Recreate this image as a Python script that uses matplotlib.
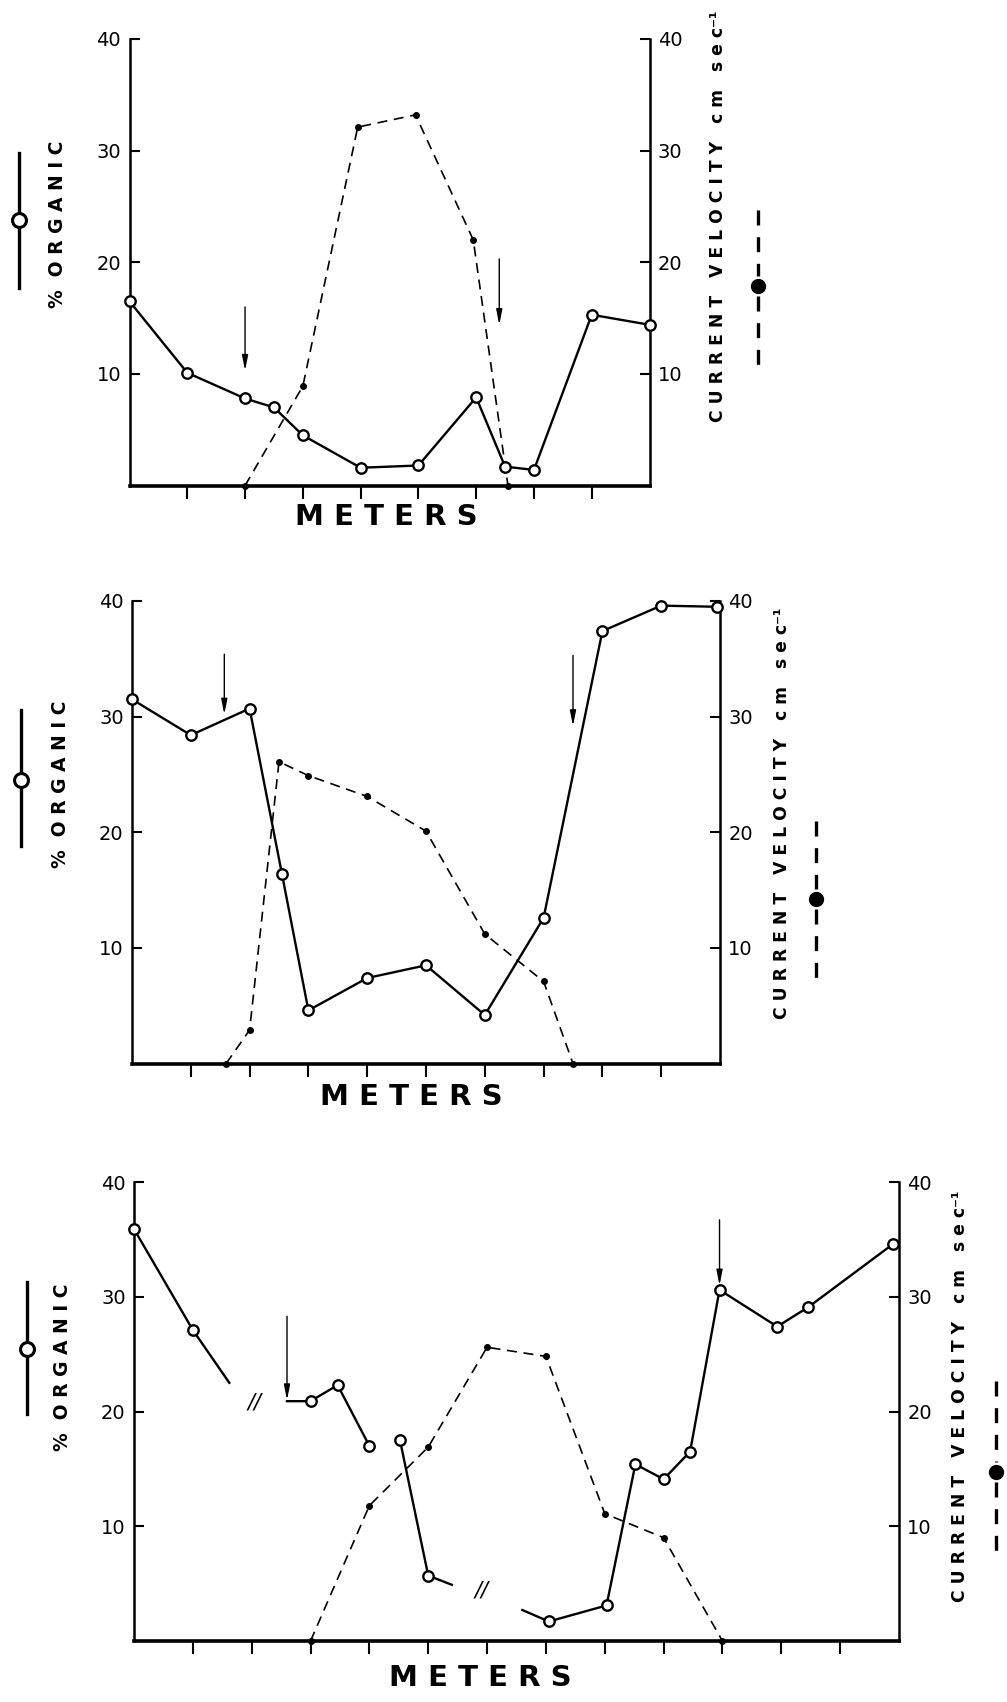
"""
Organic content vs current velocity along three transects.
"""
import numpy as np
import matplotlib.pyplot as plt
from matplotlib.lines import Line2D

W, H = 1007, 1702
nan = np.nan

# ---- panel 1 ----
org1_x = [0, 1, 2, 2.5, 3, 4, 5, 6, 6.5, 7, 8, 9]
org1_y = [16.5, 10.1, 7.8, 7.0, 4.5, 1.6, 1.8, 7.9, 1.7, 1.4, 15.3, 14.4]
vel1_x = [2, 3, 3.95, 4.95, 5.95, 6.55]
vel1_y = [0, 8.9, 32.1, 33.2, 22.0, 0]
arrows1 = [(2, 16.0, 10.3), (6.4, 20.3, 14.4)]

# ---- panel 2 ----
org2_x = [0, 1, 2, 2.55, 3, 4, 5, 6, 7, 8, 9, 9.95]
org2_y = [31.5, 28.4, 30.7, 16.4, 4.6, 7.4, 8.5, 4.2, 12.6, 37.4, 39.6, 39.5]
vel2_x = [1.6, 2, 2.5, 3, 4, 5, 6, 7, 7.5]
vel2_y = [0, 2.9, 26.1, 24.9, 23.1, 20.1, 11.2, 7.1, 0]
arrows2 = [(1.57, 35.4, 30.2), (7.5, 35.3, 29.2)]

# ---- panel 3 (nan = break in transect) ----
org3_x = [0, 1, 1.62, nan, 2.6, 3, 3.46, 4, nan, 4.52, 5, 5.4, nan,
          6.6, 7.05, 8.03, 8.52, 9, 9.45, 9.95, 10.93, 11.46, 12.9]
org3_y = [35.9, 27.1, 22.5, nan, 20.9, 20.9, 22.3, 17.0, nan, 17.5, 5.7, 4.9, nan,
          2.7, 1.7, 3.1, 15.4, 14.1, 16.5, 30.6, 27.4, 29.1, 34.6]
org3_marks = [0, 1, 5, 6, 7, 9, 10, 14, 15, 16, 17, 18, 19, 20, 21, 22]
vel3_x = [3, 4, 5, 6, 7, 8, 9, 10]
vel3_y = [0, 11.8, 16.9, 25.6, 24.8, 11.1, 9.0, 0]
arrows3 = [(2.6, 28.3, 21.0), (9.95, 36.7, 31.0)]
breaks3_x = [2.05, 5.9]
breaks3_y = [20.8, 4.4]

LEFT_LABEL = "%  O R G A N I C"
RIGHT_LABEL = "C U R R E N T   V E L O C I T Y   c m   s e c\u207b\u00b9"
XLABEL = "M E T E R S"


def fx(x):
    return x / W


def fy(y):
    return 1 - y / H


def panel(fig, rect, n, ox, oy, vx, vy, arrows, marks=None):
    l, t, r, b = rect
    ax = fig.add_axes([fx(l), fy(b), (r - l) / W, (b - t) / H])
    ax.plot(vx, vy, color='k', lw=1.2, dashes=(6, 4), marker='o', ms=4,
            mfc='k', mec='k', zorder=2, clip_on=False)
    ax.plot(ox, oy, color='k', lw=1.7, zorder=3, clip_on=False)
    ax.plot(ox, oy, ls='none', marker='o', ms=7.5, mfc='white', mec='k',
            mew=1.7, markevery=marks, zorder=4, clip_on=False)
    for x, y0, y1 in arrows:
        ax.annotate('', xy=(x, y1), xytext=(x, y0),
                    arrowprops=dict(arrowstyle='-|>,head_length=0.9,head_width=0.18',
                                    color='k', lw=1.0, shrinkA=0, shrinkB=0))
    ax.set_xlim(0, n)
    ax.set_ylim(0, 40)
    ax.spines['top'].set_visible(False)
    ax.spines['left'].set_linewidth(1.8)
    ax.spines['right'].set_linewidth(1.8)
    ax.spines['bottom'].set_linewidth(2.6)
    ax.set_xticks(range(1, n))
    ax.set_yticks([10, 20, 30, 40])
    ax.tick_params(axis='x', direction='out', length=9, width=1.5, labelbottom=False)
    ax.tick_params(axis='y', direction='in', length=7, width=1.5, left=True, right=True,
                   labelleft=True, labelright=True, labelsize=14, pad=6)
    return ax


def labels(fig, meters, left, leg_l, right, leg_r):
    fig.text(fx(meters[0]), fy(meters[1]), XLABEL, ha='center', va='center',
             fontsize=21, fontweight='bold')
    fig.text(fx(left[0]), fy(left[1]), LEFT_LABEL, ha='center', va='center',
             rotation=90, fontsize=13.5, fontweight='bold')
    fig.text(fx(right[0]), fy(right[1]), RIGHT_LABEL, ha='center', va='center',
             rotation=90, fontsize=12.3, fontweight='bold')
    # legend glyph: solid line with open circle
    x, y0, y1, yc = leg_l
    fig.add_artist(Line2D([fx(x), fx(x)], [fy(y0), fy(y1)], transform=fig.transFigure,
                          color='k', lw=2.4))
    fig.add_artist(Line2D([fx(x)], [fy(yc)], transform=fig.transFigure, marker='o',
                          ms=10, mfc='white', mec='k', mew=2.2))
    # legend glyph: dashed line with filled dot
    x, y0, y1, yc = leg_r
    fig.add_artist(Line2D([fx(x), fx(x)], [fy(y0), fy(yc) + 0.006], transform=fig.transFigure,
                          color='k', lw=2.4, dashes=(4.5, 3.5)))
    fig.add_artist(Line2D([fx(x), fx(x)], [fy(yc) - 0.006, fy(y1)], transform=fig.transFigure,
                          color='k', lw=2.4, dashes=(4.5, 3.5)))
    fig.add_artist(Line2D([fx(x)], [fy(yc)], transform=fig.transFigure, marker='o',
                          ms=10, mfc='k', mec='k'))


fig = plt.figure(figsize=(W / 100, H / 100), dpi=100)
fig.patch.set_facecolor('white')

panel(fig, (129.5, 38.9, 649.5, 485.6), 9, org1_x, org1_y, vel1_x, vel1_y, arrows1)
labels(fig, (386, 517), (58, 224), (19, 153, 288, 220), (718, 216), (758, 210, 365, 286))

panel(fig, (132, 601, 720, 1063.6), 10, org2_x, org2_y, vel2_x, vel2_y, arrows2)
labels(fig, (411, 1097), (60, 784), (21, 710, 846, 780), (782, 813), (816, 821, 985, 899))

ax3 = panel(fig, (134, 1182, 899, 1641), 13, org3_x, org3_y, vel3_x, vel3_y, arrows3,
            marks=org3_marks)
for bx, by in zip(breaks3_x, breaks3_y):
    ax3.text(bx, by, '//', ha='center', va='center', fontsize=15, style='italic')
labels(fig, (480, 1678), (62, 1367), (27, 1282, 1414, 1349), (960, 1396), (996, 1381, 1551, 1472))

fig.savefig('out.png', dpi=100, facecolor='white')
